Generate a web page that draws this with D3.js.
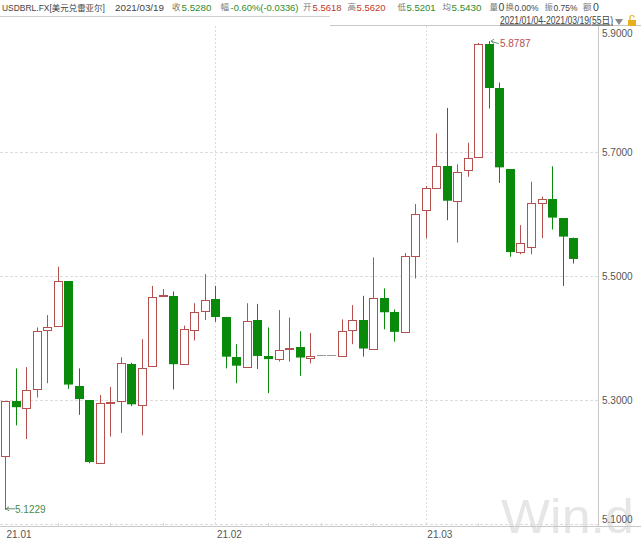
<!DOCTYPE html>
<html><head><meta charset="utf-8">
<script src="https://cdn.jsdelivr.net/npm/d3@7"></script>
<style>
html,body{margin:0;padding:0;background:#fff;}
svg{display:block;font-family:"Liberation Sans","Noto Sans CJK SC",sans-serif;}
</style></head>
<body><svg id="c" width="641" height="542"></svg>
<script>
const dates = ["01-04","01-05","01-06","01-07","01-08","01-11","01-12","01-13","01-14","01-15",
"01-18","01-19","01-20","01-21","01-22","01-25","01-26","01-27","01-28","01-29",
"02-01","02-02","02-03","02-04","02-05","02-08","02-09","02-10","02-11","02-12",
"02-15","02-16","02-17","02-18","02-19","02-22","02-23","02-24","02-25","02-26",
"03-01","03-02","03-03","03-04","03-05","03-08","03-09","03-10","03-11","03-12",
"03-15","03-16","03-17","03-18","03-19"];
const open  = [5.210,5.298,5.287,5.318,5.412,5.420,5.492,5.322,5.300,5.198,
5.295,5.298,5.358,5.293,5.354,5.468,5.468,5.358,5.413,5.444,
5.463,5.434,5.369,5.353,5.429,5.371,5.367,5.382,5.385,5.368,
5.372,5.372,5.371,5.413,5.429,5.383,5.465,5.442,5.410,5.533,
5.606,5.641,5.677,5.621,5.671,5.692,5.875,5.803,5.672,5.538,
5.547,5.618,5.625,5.593,5.5618];
const high  = [5.298,5.351,5.353,5.417,5.437,5.515,5.492,5.351,5.300,5.308,
5.321,5.369,5.360,5.398,5.484,5.479,5.475,5.420,5.456,5.503,
5.484,5.434,5.390,5.456,5.455,5.417,5.445,5.433,5.411,5.408,
5.372,5.372,5.430,5.453,5.468,5.530,5.480,5.446,5.537,5.616,
5.645,5.730,5.771,5.680,5.715,5.876,5.8787,5.812,5.672,5.582,
5.652,5.628,5.677,5.593,5.5620];
const low   = [5.1229,5.259,5.237,5.304,5.327,5.420,5.318,5.276,5.198,5.197,
5.241,5.247,5.290,5.243,5.354,5.467,5.317,5.357,5.396,5.429,
5.426,5.351,5.327,5.353,5.350,5.311,5.362,5.362,5.339,5.359,
5.372,5.372,5.371,5.390,5.370,5.383,5.414,5.394,5.409,5.496,
5.561,5.641,5.590,5.554,5.660,5.692,5.770,5.650,5.531,5.535,
5.535,5.561,5.575,5.484,5.5201];
const close = [5.298,5.288,5.316,5.411,5.417,5.492,5.325,5.301,5.200,5.295,
5.297,5.359,5.293,5.352,5.466,5.470,5.358,5.415,5.442,5.462,
5.434,5.370,5.355,5.427,5.371,5.366,5.381,5.384,5.368,5.371,
5.372,5.372,5.412,5.429,5.383,5.465,5.442,5.410,5.532,5.600,
5.642,5.677,5.621,5.668,5.691,5.875,5.804,5.675,5.538,5.553,
5.618,5.624,5.595,5.563,5.5280];
const yTicks = [5.1,5.3,5.5,5.7,5.9];
const yTickLabels = ["5.1000","5.3000","5.5000","5.7000","5.9000"];
const monthStarts = ["01-04","02-01","03-01"];
const monthLabels = ["21.01","21.02","21.03"];
const weekStarts = ["01-11","01-18","01-25","02-08","02-15","02-22","03-08","03-15"];
const headerTexts = ["USDBRL.FX[美元兑雷亚尔]","2021/03/19","收","5.5280","幅","-0.60%(-0.0336)",
  "开","5.5618","高","5.5620","低","5.5201","均","5.5430","量","0","换","0.00%","振","0.75%","额","0"];
const rangeLabel = "2021/01/04-2021/03/19(55日)";

// header layout (x start, max width, colour) per text above
const hdrX = [2,115,172,181.5,220.5,230.5,303,312.5,347.5,356.5,397.5,406.5,442.5,451.5,489.5,498.5,505.5,514.5,544.5,553.5,583,593];
const hdrW = [103,49,0,30,0,68,0,29,0,29,0,29,0,30,0,0,0,24,0,24,0,0];
const G = "#2e8b2e", R = "#c0392b", L = "#777", D = "#444";
const hdrC = [D,D,L,G,L,G,L,R,L,R,L,G,L,G,L,D,L,D,L,D,L,D];

const svg = d3.select("#c");
const data = dates.map((d,i)=>({d, o:open[i], h:high[i], l:low[i], c:close[i]}));
const x = d3.scalePoint().domain(dates).range([5, 573.1]);
const y = d3.scaleLinear().domain([5.1, 5.9]).range([524, 28]);
const plotTop = 26, plotBottom = 526, axisX = 598;

// watermark
svg.append("text").attr("x",501).attr("y",533)
  .attr("font-family","Liberation Sans, Arial, sans-serif").attr("font-size",49)
  .attr("fill","#e6e6e6").attr("textLength",133).attr("lengthAdjust","spacingAndGlyphs")
  .text("Win.d");

// header
const hdr = svg.append("g");
headerTexts.forEach((t,i)=>{
  const tx = hdr.append("text").attr("x",hdrX[i]).attr("y",10.5).attr("fill",hdrC[i])
    .attr("font-size",10.5).text(t);
  if (t.length === 1 && /[^\x00-\x7f]/.test(t)) tx.attr("font-size",8.5).attr("y",10);
  if (hdrW[i]) {
    const len = tx.node().getComputedTextLength();
    if (len > hdrW[i]) tx.attr("font-size", (10.5*hdrW[i]/len).toFixed(2));
  }
});
svg.append("line").attr("x1",0).attr("x2",330).attr("y1",16.5).attr("y2",16.5).attr("stroke","#d0d0d0");
svg.append("line").attr("x1",330).attr("x2",641).attr("y1",plotTop-0.5).attr("y2",plotTop-0.5).attr("stroke","#c8c8c8");
svg.append("text").attr("x",500).attr("y",23.5).attr("font-size",10).attr("fill","#444")
  .attr("text-decoration","underline").attr("textLength",113).attr("lengthAdjust","spacingAndGlyphs").text(rangeLabel);
svg.append("path").attr("d","M615,19 L623,19 L619,25 Z").attr("fill","#888");
svg.append("rect").attr("x",628).attr("y",20).attr("width",8).attr("height",6).attr("fill","#e8b020");
svg.append("path").attr("d","M630,20 V17.5 A2,2 0 0 1 634,17.5").attr("fill","none").attr("stroke","#e8b020").attr("stroke-width",1.2);

// grid
const grid = svg.append("g");
grid.selectAll("line.h").data(yTicks.filter(v=>v<5.85)).join("line")
  .attr("x1",0).attr("x2",axisX).attr("y1",d=>Math.round(y(d))+0.5).attr("y2",d=>Math.round(y(d))+0.5)
  .attr("stroke","#dcdcdc").attr("stroke-dasharray","3,2");
grid.selectAll("line.v").data(monthStarts.slice(1)).join("line")
  .attr("x1",d=>Math.round(x(d))+0.5).attr("x2",d=>Math.round(x(d))+0.5)
  .attr("y1",plotTop).attr("y2",plotBottom)
  .attr("stroke","#dcdcdc").attr("stroke-dasharray","2,2");

// right axis
const yAxis = d3.axisRight(y).tickValues(yTicks).tickSize(0).tickPadding(4)
  .tickFormat((d,i)=>yTickLabels[i]);
const ya = svg.append("g").attr("transform",`translate(${axisX},0)`).call(yAxis);
ya.select(".domain").remove();
ya.selectAll("text").attr("fill","#555").attr("font-size",10)
  .attr("font-family","Liberation Sans, Arial, sans-serif")
  .attr("dy",(d)=> d===5.9 ? "0.85em" : d===5.1 ? "-0.15em" : "0.32em");
svg.append("line").attr("x1",axisX+0.5).attr("x2",axisX+0.5).attr("y1",plotTop).attr("y2",plotBottom).attr("stroke","#c8c8c8");

// bottom axis
const xAxis = d3.axisBottom(x).tickValues(monthStarts).tickSize(0).tickPadding(5)
  .tickFormat((d,i)=>monthLabels[i]);
const xa = svg.append("g").attr("transform",`translate(0,${plotBottom})`).call(xAxis);
xa.select(".domain").remove();
xa.selectAll("text").attr("text-anchor","start").attr("dx",1).attr("fill","#555").attr("font-size",10)
  .attr("font-family","Liberation Sans, Arial, sans-serif");
svg.append("line").attr("x1",0).attr("x2",641).attr("y1",plotBottom+0.5).attr("y2",plotBottom+0.5).attr("stroke","#c8c8c8");
svg.selectAll("line.wk").data(weekStarts).join("line")
  .attr("x1",d=>Math.round(x(d))+0.5).attr("x2",d=>Math.round(x(d))+0.5)
  .attr("y1",plotBottom-3).attr("y2",plotBottom).attr("stroke","#d8d8d8");

// candles
const RED = "#b5504f", GREEN = "#0a8a0a", GRAY = "#9a9a9a";
const bw = 8;
const cg = svg.append("g");
data.forEach(k=>{
  const cx = Math.round(x(k.d));
  const up = k.c > k.o, dn = k.c < k.o;
  const col = up ? RED : dn ? GREEN : GRAY;
  cg.append("line").attr("x1",cx+0.5).attr("x2",cx+0.5).attr("y1",y(k.h)).attr("y2",y(k.l))
    .attr("stroke",col).attr("stroke-width",1);
  const top = y(Math.max(k.o,k.c)), bot = y(Math.min(k.o,k.c));
  if (!up && !dn) {
    cg.append("line").attr("x1",cx-bw/2).attr("x2",cx+bw/2+1).attr("y1",Math.round(top)+0.5).attr("y2",Math.round(top)+0.5)
      .attr("stroke",col);
  } else if (up) {
    cg.append("rect").attr("x",cx-bw/2+0.5).attr("y",Math.round(top)+0.5)
      .attr("width",bw).attr("height",Math.max(1,Math.round(bot-top)))
      .attr("fill","#fff").attr("stroke",col);
  } else {
    cg.append("rect").attr("x",cx-bw/2).attr("y",Math.round(top))
      .attr("width",bw+1).attr("height",Math.max(1.5,bot-top))
      .attr("fill",col);
  }
});

// max / min annotations
const iMax = d3.maxIndex(high), iMin = d3.minIndex(low);
const mx = x(dates[iMax]), my = y(high[iMax]);
svg.append("path").attr("d",`M${mx+2},${my} L${mx+10},${my+2.5} M${mx+2},${my} l3,-2 M${mx+2},${my} l3,2`)
  .attr("stroke","#6a9a7a").attr("fill","none");
svg.append("text").attr("x",mx+11).attr("y",my+6).attr("font-size",10).attr("fill","#b5504f")
  .attr("font-family","Liberation Sans, Arial, sans-serif").text(high[iMax].toFixed(4));
const nx = x(dates[iMin]), ny = y(low[iMin]);
svg.append("path").attr("d",`M${nx+1},${ny-1} L${nx+10},${ny-1} M${nx+1},${ny-1} l3,-2 M${nx+1},${ny-1} l3,2`)
  .attr("stroke","#6a8a6a").attr("fill","none");
svg.append("text").attr("x",nx+10).attr("y",ny+3).attr("font-size",10).attr("fill","#4a8a4a")
  .attr("font-family","Liberation Sans, Arial, sans-serif").text(low[iMin].toFixed(4));
</script></body></html>
